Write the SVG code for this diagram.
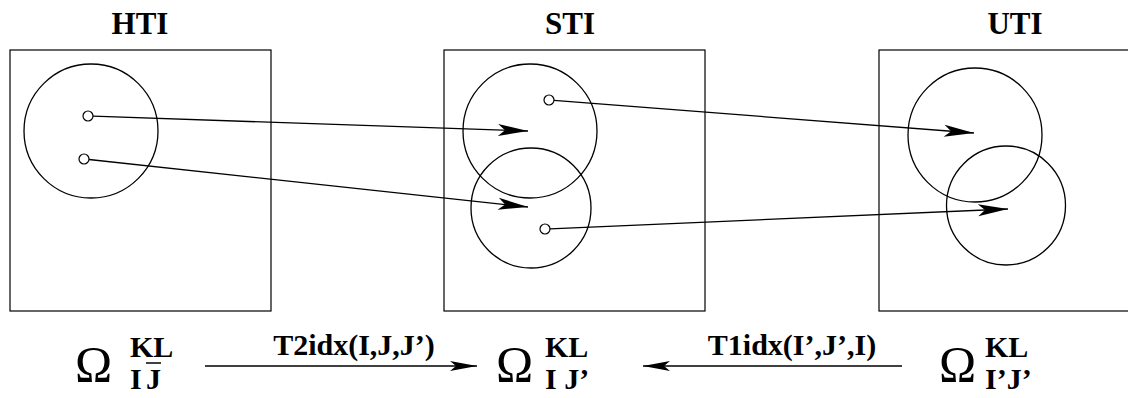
<svg xmlns="http://www.w3.org/2000/svg" width="1128" height="398" viewBox="0 0 1128 398" font-family="Liberation Serif, Times New Roman, serif">
<style>
.box{fill:none;stroke:#000;stroke-width:1.2}
.reg{fill:none;stroke:#000;stroke-width:1.3}
.pt{fill:#fff;stroke:#000;stroke-width:1.2}
.con{fill:none;stroke:#000;stroke-width:1.3}
.title{font-weight:bold;font-size:31px;text-anchor:middle}
.lbl{font-weight:bold;font-size:30px;text-anchor:middle}
.om{font-size:50px}
.idx{font-weight:bold;font-size:30px}
</style>
<defs>
<marker id="ah" markerUnits="userSpaceOnUse" viewBox="-31 -7 32 14" refX="0" refY="0" markerWidth="32" markerHeight="14" orient="auto">
<path d="M0,0 L-30,-6 L-23,0 L-30,6 Z" fill="#000"/>
</marker>
<marker id="ah2" markerUnits="userSpaceOnUse" viewBox="-28 -6 29 12" refX="0" refY="0" markerWidth="29" markerHeight="12" orient="auto">
<path d="M0,0 L-27,-5 L-21,0 L-27,5 Z" fill="#000"/>
</marker>
</defs>
<g id="HTI">
<text class="title" x="140" y="34">HTI</text>
<rect class="box" x="10" y="50" width="261" height="261"/>
<circle class="reg" cx="91" cy="131" r="67"/>
<circle class="pt" cx="88" cy="116" r="5"/>
<circle class="pt" cx="84" cy="159" r="5"/>
</g>
<g id="STI">
<text class="title" x="570" y="34">STI</text>
<rect class="box" x="444" y="50" width="261" height="261"/>
<circle class="reg" cx="530" cy="131" r="67"/>
<circle class="reg" cx="531" cy="208" r="60"/>
<circle class="pt" cx="549" cy="100" r="5"/>
<circle class="pt" cx="545" cy="229" r="5"/>
</g>
<g id="UTI">
<text class="title" x="1015" y="34">UTI</text>
<rect class="box" x="879" y="50" width="261" height="261"/>
<circle class="reg" cx="975" cy="135" r="67"/>
<circle class="reg" cx="1006" cy="205.5" r="59.5"/>
</g>
<g id="connectors">
<line class="con" x1="93" y1="116.2" x2="528" y2="131" marker-end="url(#ah)"/>
<line class="con" x1="89" y1="159.5" x2="528" y2="207" marker-end="url(#ah)"/>
<line class="con" x1="554" y1="100.4" x2="974" y2="133" marker-end="url(#ah)"/>
<line class="con" x1="550" y1="228.8" x2="1008" y2="209" marker-end="url(#ah)"/>
<line class="con" x1="205" y1="366" x2="477" y2="366" marker-end="url(#ah2)"/>
<line class="con" x1="902" y1="366" x2="643" y2="366" marker-end="url(#ah2)"/>
<text class="lbl" x="354" y="355">T2idx(I,J,J’)</text>
<text class="lbl" x="792" y="355">T1idx(I’,J’,I)</text>
</g>
<g id="omega-HTI">
<text class="om" x="75" y="381">Ω</text>
<text class="idx" x="130" y="357">KL</text>
<text class="idx" x="130" y="389">I</text>
<text class="idx" x="146" y="389">J</text>
<line x1="146" y1="363" x2="161" y2="363" stroke="#000" stroke-width="1.5"/>
</g>
<g id="omega-STI">
<text class="om" x="496" y="381">Ω</text>
<text class="idx" x="545" y="357">KL</text>
<text class="idx" x="545" y="389">I J’</text>
</g>
<g id="omega-UTI">
<text class="om" x="939" y="381">Ω</text>
<text class="idx" x="985" y="357">KL</text>
<text class="idx" x="985" y="389">I’J’</text>
</g>
</svg>
